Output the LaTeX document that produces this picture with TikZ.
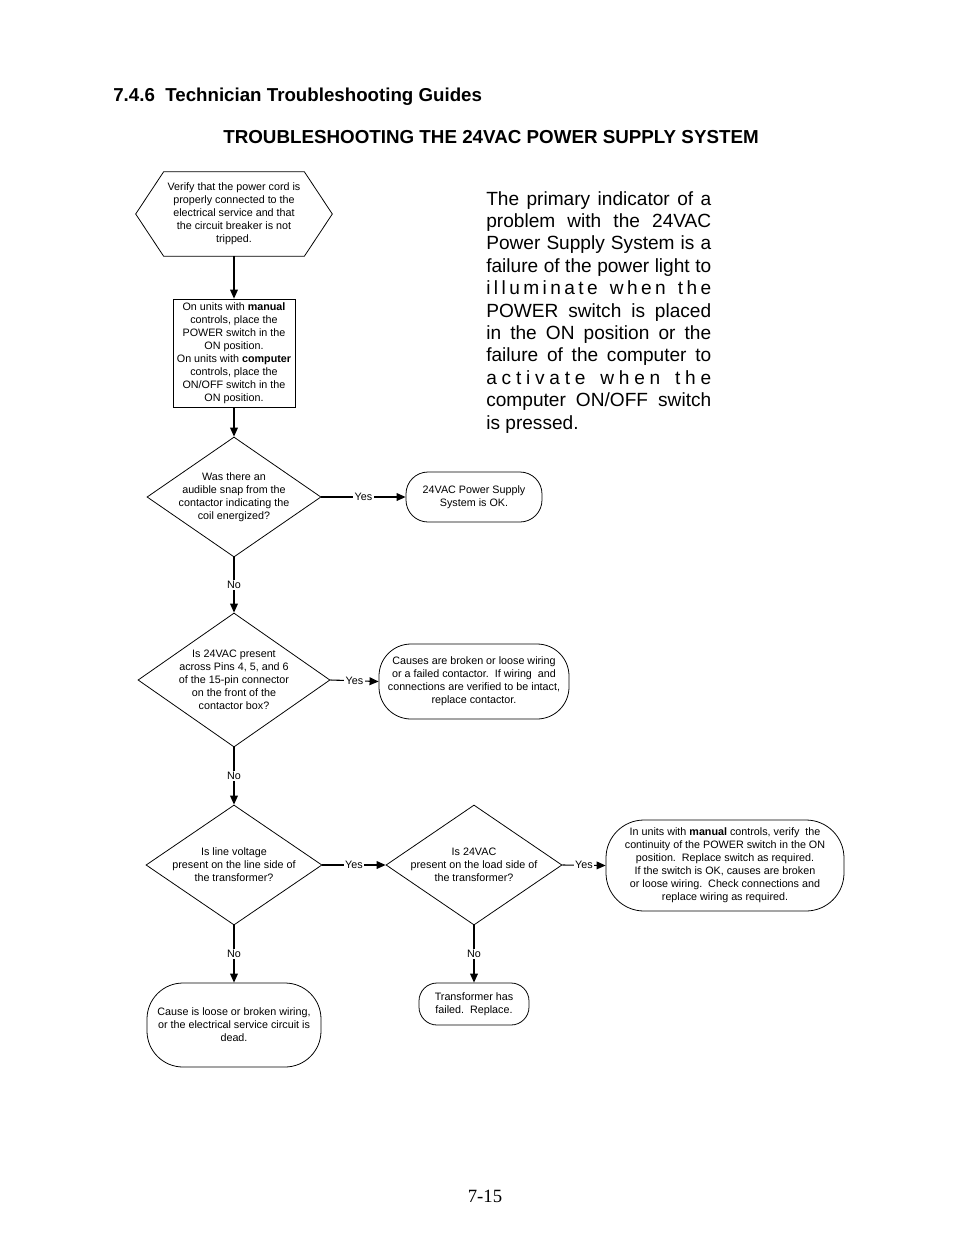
\documentclass[tikz,border=0pt]{standalone}
\usepackage{fontspec}
\setmainfont{Liberation Sans}
\newfontfamily\pnfont{Liberation Serif}
\usetikzlibrary{shapes.geometric,arrows.meta,calc}
\newcommand\pxu{0.6415pt}
\begin{document}
\begin{tikzpicture}[x=\pxu,y=-\pxu,
  small/.style={font=\fontsize{6.9}{8.34}\selectfont, align=center},
  shapeline/.style={draw, line width=0.5pt},
  hexbox/.style={rectangle, inner sep=0, minimum width=196*\pxu, minimum height=84*\pxu},
  procbox/.style={shapeline, rectangle, small, inner sep=0},
  dia/.style={shapeline, diamond, inner sep=0},
  term/.style={shapeline, rectangle, small, inner sep=0},
  conn/.style={line width=0.7pt, -{Triangle[length=5.8pt,width=5pt]}},
  lab/.style={small, fill=white, inner xsep=1pt, inner ysep=1pt}
]
\fill[white] (0,0) rectangle (954,1235);
\useasboundingbox (0,0) rectangle (954,1235);

% headings
\node[anchor=base west, inner sep=0, font=\fontsize{12}{14}\selectfont\bfseries] (head) at (113,101) {7.4.6\hspace{0.556em}Technician Troubleshooting Guides};
\node[anchor=base, inner sep=0, font=\fontsize{12.05}{14}\selectfont\bfseries] (title) at (491,143) {TROUBLESHOOTING THE 24VAC POWER SUPPLY SYSTEM};

% paragraph
\node[anchor=base west, inner sep=0, font=\fontsize{12.25}{14.37}\selectfont] (para) at (486,205) {\parbox[t]{144.3pt}{%
\makebox[\linewidth][s]{The primary indicator of a}\\
\makebox[\linewidth][s]{problem with the 24VAC}\\
\makebox[\linewidth][s]{Power Supply System is a}\\
\makebox[\linewidth][s]{failure of the power light to}\\
\hbox to \linewidth{i\hfil l\hfil l\hfil u\hfil m\hfil i\hfil n\hfil a\hfil t\hfil e\hfil\ \hfil w\hfil h\hfil e\hfil n\hfil\ \hfil t\hfil h\hfil e}\\
\makebox[\linewidth][s]{POWER switch is placed}\\
\makebox[\linewidth][s]{in the ON position or the}\\
\makebox[\linewidth][s]{failure of the computer to}\\
\hbox to \linewidth{a\hfil c\hfil t\hfil i\hfil v\hfil a\hfil t\hfil e\hfil\ \hfil w\hfil h\hfil e\hfil n\hfil\ \hfil t\hfil h\hfil e}\\
\makebox[\linewidth][s]{computer ON/OFF switch}\\
is pressed.}};

% hexagon
\node[hexbox] (hex) at (234,214) {};
\draw[shapeline] (hex.west) -- ($(hex.north west)+(28,0)$) -- ($(hex.north east)+(-28,0)$) -- (hex.east) -- ($(hex.south east)+(-28,0)$) -- ($(hex.south west)+(28,0)$) -- cycle;
\node[small, inner sep=0] (hextxt) at (hex) {Verify that the power cord is\\properly connected to the\\electrical service and that\\the circuit breaker is not\\tripped.};

% process box
\node[procbox, minimum width=122*\pxu, minimum height=108*\pxu] (box) at (234,353) {On units with \textbf{manual}\\controls, place the\\POWER switch in the\\ON position.\\On units with \textbf{computer}\\controls, place the\\ON/OFF switch in the\\ON position.};

% diamonds
\node[dia, minimum width=174*\pxu, minimum height=120*\pxu] (d1) at (234,497) {};
\node[small, inner sep=0] (d1t) at (d1) {Was there an\\audible snap from the\\contactor indicating the\\coil energized?};
\node[dia, minimum width=192*\pxu, minimum height=134*\pxu] (d2) at (234,680) {};
\node[small, inner sep=0] (d2t) at (d2) {Is 24VAC present\\across Pins 4, 5, and 6\\of the 15-pin connector\\on the front of the\\contactor box?};
\node[dia, minimum width=176*\pxu, minimum height=120*\pxu] (d3) at (234,865) {};
\node[small, inner sep=0] (d3t) at (d3) {Is line voltage\\present on the line side of\\the transformer?};
\node[dia, minimum width=176*\pxu, minimum height=120*\pxu] (d4) at (474,865) {};
\node[small, inner sep=0] (d4t) at (d4) {Is 24VAC\\present on the load side of\\the transformer?};

% terminators
\node[term, rounded corners=22*\pxu, minimum width=136*\pxu, minimum height=50*\pxu] (t1) at (474,497) {24VAC Power Supply\\System is OK.};
\node[term, rounded corners=32*\pxu, minimum width=190*\pxu, minimum height=75*\pxu] (t2) at (474,681.5) {Causes are broken or loose wiring\\or a failed contactor.\ \ If wiring\ \ and\\connections are verified to be intact,\\replace contactor.};
\node[term, rounded corners=38*\pxu, minimum width=238*\pxu, minimum height=91*\pxu] (t3) at (725,865.5) {In units with \textbf{manual} controls, verify\ \ the\\continuity of the POWER switch in the ON\\position.\ \ Replace switch as required.\\If the switch is OK, causes are broken\\or loose wiring.\ \ Check connections and\\replace wiring as required.};
\node[term, rounded corners=36*\pxu, minimum width=174*\pxu, minimum height=84*\pxu] (t4) at (234,1025) {Cause is loose or broken wiring,\\or the electrical service circuit is\\dead.};
\node[term, rounded corners=18*\pxu, minimum width=110*\pxu, minimum height=42*\pxu] (t5) at (474,1004) {Transformer has\\failed.\ \ Replace.};

% connectors
\draw[conn] (hex.south) -- (box.north);
\draw[conn] (box.south) -- (d1.north);
\draw[conn] (d1.east) -- node[lab] {Yes} (t1.west);
\draw[conn] (d1.south) -- node[lab] {No} (d2.north);
\draw[conn] (d2.east) -- node[lab] {Yes} (t2.west);
\draw[conn] (d2.south) -- node[lab] {No} (d3.north);
\draw[conn] (d3.east) -- node[lab] {Yes} (d4.west);
\draw[conn] (d4.east) -- node[lab] {Yes} (t3.west);
\draw[conn] (d3.south) -- node[lab] {No} (t4.north);
\draw[conn] (d4.south) -- node[lab] {No} (t5.north);

% page number
\node[anchor=base, inner sep=0, font=\pnfont\fontsize{12}{14}\selectfont] (pn) at (485,1202) {7-15};
\end{tikzpicture}
\end{document}
